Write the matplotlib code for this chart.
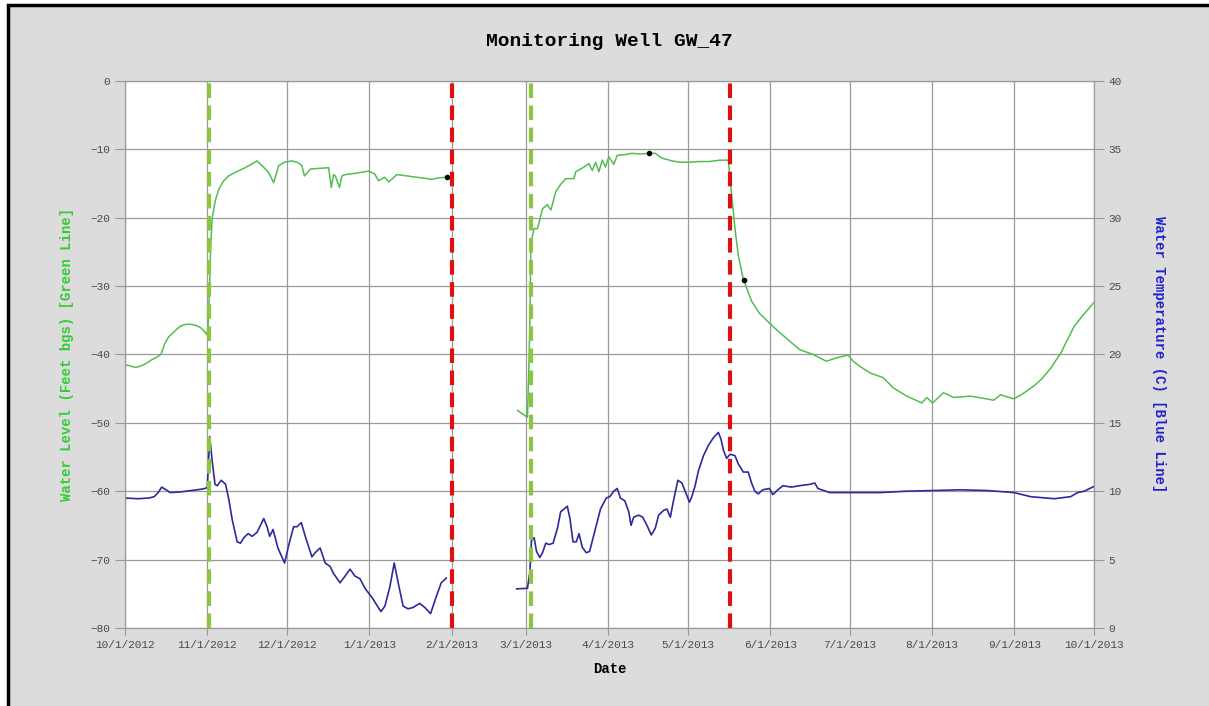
import numpy as np
import pandas as pd
import matplotlib.pyplot as plt
import matplotlib.dates as mdates
from matplotlib.patches import Rectangle
from matplotlib.ticker import FuncFormatter

start = pd.Timestamp('2012-10-01')

# water level (feet bgs), x = days after 10/1/2012
lvl1_day = [0, 2, 4, 6, 8, 10, 12, 13.5, 15, 16.5, 18, 19.5, 21.2, 23, 25, 27, 28.5, 29.8, 30.8,
            31.3, 31.8, 32.3, 32.8, 34, 35.3, 37, 39, 42, 45.3, 48, 49.7, 51.6, 54.1, 56, 57.9,
            60, 62.9, 65.4, 66.6, 67.6, 69.8, 73, 76.7, 77.7, 78.6, 79.2, 80.8, 81.7, 83, 87,
            91.7, 94, 95.5, 97.8, 99.3, 102.4, 108, 112, 115.6, 118, 121.2]
lvl1_ft = [-41.5, -41.7, -41.9, -41.7, -41.3, -40.8, -40.4, -40.0, -38.4, -37.4, -36.9, -36.3,
           -35.8, -35.6, -35.6, -35.8, -36.1, -36.6, -37.1, -36.0, -30.5, -24.0, -20.2, -17.5,
           -15.9, -14.7, -13.9, -13.3, -12.7, -12.1, -11.7, -12.4, -13.4, -14.9, -12.4, -11.9,
           -11.7, -12.0, -12.4, -13.9, -12.9, -12.8, -12.7, -15.6, -13.7, -13.9, -15.6, -13.9,
           -13.7, -13.5, -13.2, -13.6, -14.6, -14.1, -14.8, -13.7, -14.0, -14.2, -14.4, -14.2,
           -14.1]
lvl2_day = [147.9, 151.6, 152.1, 152.5, 152.9, 154.1, 155.4, 157.25, 159.1, 160.4, 162.25, 164,
            166, 169.1, 169.75, 172.9, 174.75, 176, 177.25, 178.5, 179.75, 181, 182.25, 184.1,
            185.4, 188, 191, 194, 197.25, 199.75, 202.25, 206, 209, 212.25, 216, 220, 224,
            227.25, 228.5, 229.75, 231, 232.9, 236, 239, 242.7, 246, 249, 254.1, 259.1, 264.2,
            268, 272.4, 274.3, 277, 280.6, 285.6, 289.4, 294.5, 300.1, 302, 304.2, 308.3,
            312.1, 318.4, 323, 327.2, 329.8, 334.8, 338, 342.4, 345.5, 348.7, 352.5, 357.5,
            361, 365]
lvl2_ft = [-48.2, -49.2, -42.0, -35.3, -23.6, -21.6, -21.6, -18.7, -18.1, -18.9, -16.2, -15.2,
           -14.3, -14.3, -13.3, -12.6, -12.1, -13.1, -11.9, -13.3, -11.6, -12.6, -11.1, -12.2,
           -10.9, -10.8, -10.6, -10.7, -10.6, -10.6, -11.3, -11.7, -11.9, -11.9, -11.8, -11.8,
           -11.6, -11.6, -16.7, -21.6, -25.5, -29.0, -32.2, -34.0, -35.4, -36.6, -37.6, -39.3,
           -40.0, -41.0, -40.5, -40.1, -41.0, -41.8, -42.7, -43.4, -44.9, -46.1, -47.1, -46.3,
           -47.1, -45.6, -46.3, -46.1, -46.4, -46.7, -45.9, -46.5, -45.8, -44.6, -43.5, -42.0,
           -39.8, -35.9, -34.2, -32.4]

# water temperature (C)
tmp1_day = [0, 5, 9, 11, 12.5, 13.8, 15.5, 17, 21, 25, 29, 31, 31.9, 32.9, 33.9, 34.75, 36.25,
            37.9, 39.1, 40.4, 42.25, 43.5, 44.75, 46.4, 47.9, 49.75, 52.25, 53.5, 54.5, 55.75,
            57.6, 60.1, 61.6, 63.5, 64.75, 66.4, 67.9, 70.4, 71.6, 73.5, 75.4, 77.25, 78.5, 81,
            82.9, 84.75, 86.6, 88.5, 90.4, 93.5, 94.75, 96.4, 97.9, 99.75, 101.4, 102.9, 104.75,
            106.6, 108.5, 111, 112.9, 115.1, 117.25, 119.1, 121]
tmp1_c = [9.5, 9.45, 9.5, 9.6, 9.9, 10.3, 10.1, 9.9, 9.95, 10.05, 10.15, 10.25, 14.0, 12.1, 10.5,
          10.4, 10.8, 10.5, 9.4, 7.9, 6.3, 6.2, 6.6, 6.9, 6.7, 7.0, 8.0, 7.4, 6.7, 7.2, 5.85, 4.75,
          6.0, 7.4, 7.4, 7.7, 6.7, 5.2, 5.5, 5.85, 4.75, 4.5, 4.0, 3.3, 3.8, 4.3, 3.8, 3.6, 2.9,
          2.1, 1.7, 1.2, 1.6, 3.0, 4.75, 3.3, 1.6, 1.4, 1.5, 1.8, 1.5, 1.05, 2.3, 3.3, 3.65]
tmp2_day = [147.5, 151.6, 152.5, 153.1, 154.1, 155, 156.25, 157.25, 158.5, 159.75, 161.25, 162.9,
            164.1, 165.4, 166.6, 167.6, 168.75, 170, 171, 172.25, 173.75, 175, 177.25, 179.1,
            181.25, 182.6, 184.1, 185.4, 186.6, 188.25, 189.75, 190.6, 191.6, 193.5, 195, 196.6,
            198.25, 199.75, 201, 202.9, 204.1, 205.4, 206.6, 208.25, 209.75, 211, 212.6, 213.5,
            214.75, 216, 217.9, 219.75, 221.6, 223.5, 224.5, 225.4, 226.6, 227.9, 229.75, 231,
            232.9, 234.75, 236, 237.25, 238.5, 240.2, 242.7, 244, 245.9, 247.8, 251, 254, 257.9,
            259.8, 261, 265.4, 273, 284.4, 294.5, 304.5, 314.6, 324.7, 334.8, 341.1, 350, 356.2,
            358.8, 361.3, 365]
tmp2_c = [2.86, 2.9, 4.1, 6.4, 6.6, 5.6, 5.15, 5.5, 6.2, 6.1, 6.2, 7.3, 8.5, 8.7, 8.9, 8.0, 6.3,
          6.3, 6.9, 5.9, 5.5, 5.6, 7.3, 8.7, 9.5, 9.6, 10.0, 10.2, 9.5, 9.3, 8.5, 7.5, 8.1, 8.25,
          8.1, 7.5, 6.8, 7.3, 8.25, 8.6, 8.7, 8.1, 9.3, 10.8, 10.6, 10.0, 9.2, 9.6, 10.4, 11.5,
          12.6, 13.35, 13.9, 14.3, 13.8, 13.0, 12.4, 12.7, 12.6, 12.0, 11.4, 11.4, 10.6, 10.0,
          9.8, 10.1, 10.2, 9.75, 10.1, 10.4, 10.3, 10.4, 10.5, 10.6, 10.2, 9.9, 9.9, 9.9, 10.0,
          10.05, 10.1, 10.05, 9.9, 9.6, 9.45, 9.6, 9.9, 10.0, 10.35]

# black marker points on the water level line
dot_day = [121.2, 197.25, 233.1]
dot_ft = [-14.1, -10.6, -29.1]

green_marks = ['2012-11-01 18:00', '2013-03-02 18:00']
red_marks = ['2013-02-01', '2013-05-17']


def to_dates(days):
    return start + pd.to_timedelta(np.array(days), unit='D')


mono = 'Liberation Mono'
fig = plt.figure(figsize=(12.09, 7.06), dpi=100, facecolor='white')
fig.add_artist(Rectangle((0.0065, -0.05), 1.1, 1.043, transform=fig.transFigure,
                         facecolor='#dcdcdc', edgecolor='black', linewidth=2.5, zorder=-10))

ax = fig.add_axes([0.1034, 0.1105, 0.8015, 0.775])
ax.set_facecolor('white')
ax.plot(to_dates(lvl1_day), lvl1_ft, color='#52bd52', lw=1.1)
ax.plot(to_dates(lvl2_day), lvl2_ft, color='#52bd52', lw=1.1)
ax.plot(to_dates(dot_day), dot_ft, 'o', color='black', ms=3, zorder=5)
ax.set_ylim(-80, 0)
ax.set_yticks(np.arange(-80, 1, 10))
ax.set_xlim(start, pd.Timestamp('2013-10-01'))
ax.xaxis.set_major_locator(mdates.MonthLocator())
ax.xaxis.set_major_formatter(FuncFormatter(
    lambda v, p: '{d.month}/{d.day}/{d.year}'.format(d=mdates.num2date(v))))
ax.grid(True, color='#9a9a9a', lw=0.9)

ax2 = ax.twinx()
ax2.plot(to_dates(tmp1_day), tmp1_c, color='#2b2b9a', lw=1.2)
ax2.plot(to_dates(tmp2_day), tmp2_c, color='#2b2b9a', lw=1.2)
for d in green_marks:
    ax2.axvline(pd.Timestamp(d), color='#8cc63f', lw=3, ls=(0, (3.5, 1.8)))
for d in red_marks:
    ax2.axvline(pd.Timestamp(d), color='#dd1111', lw=3, ls=(0, (3.5, 1.8)))
ax2.set_ylim(0, 40)
ax2.set_yticks(np.arange(0, 41, 5))

for a in (ax, ax2):
    for s in a.spines.values():
        s.set_color('#999999')
    a.tick_params(colors='#999999', labelcolor='#4a4a4a', labelsize=8, length=7)
    for lab in a.get_xticklabels() + a.get_yticklabels():
        lab.set_fontfamily(mono)
ax.tick_params(axis='x', length=5)

ax.set_title('Monitoring Well GW_47', fontfamily=mono, fontsize=14, fontweight='bold', pad=25)
ax.set_xlabel('Date', fontfamily=mono, fontsize=10, fontweight='bold', labelpad=9)
ax.set_ylabel('Water Level (Feet bgs) [Green Line]', fontfamily=mono, fontsize=10,
              fontweight='bold', color='#33cc33', labelpad=12)
ax2.set_ylabel('Water Temperature (C) [Blue Line]', fontfamily=mono, fontsize=10,
               fontweight='bold', color='#2222cc', rotation=270, labelpad=32)

fig.savefig('out.png', dpi=100, facecolor=fig.get_facecolor())
